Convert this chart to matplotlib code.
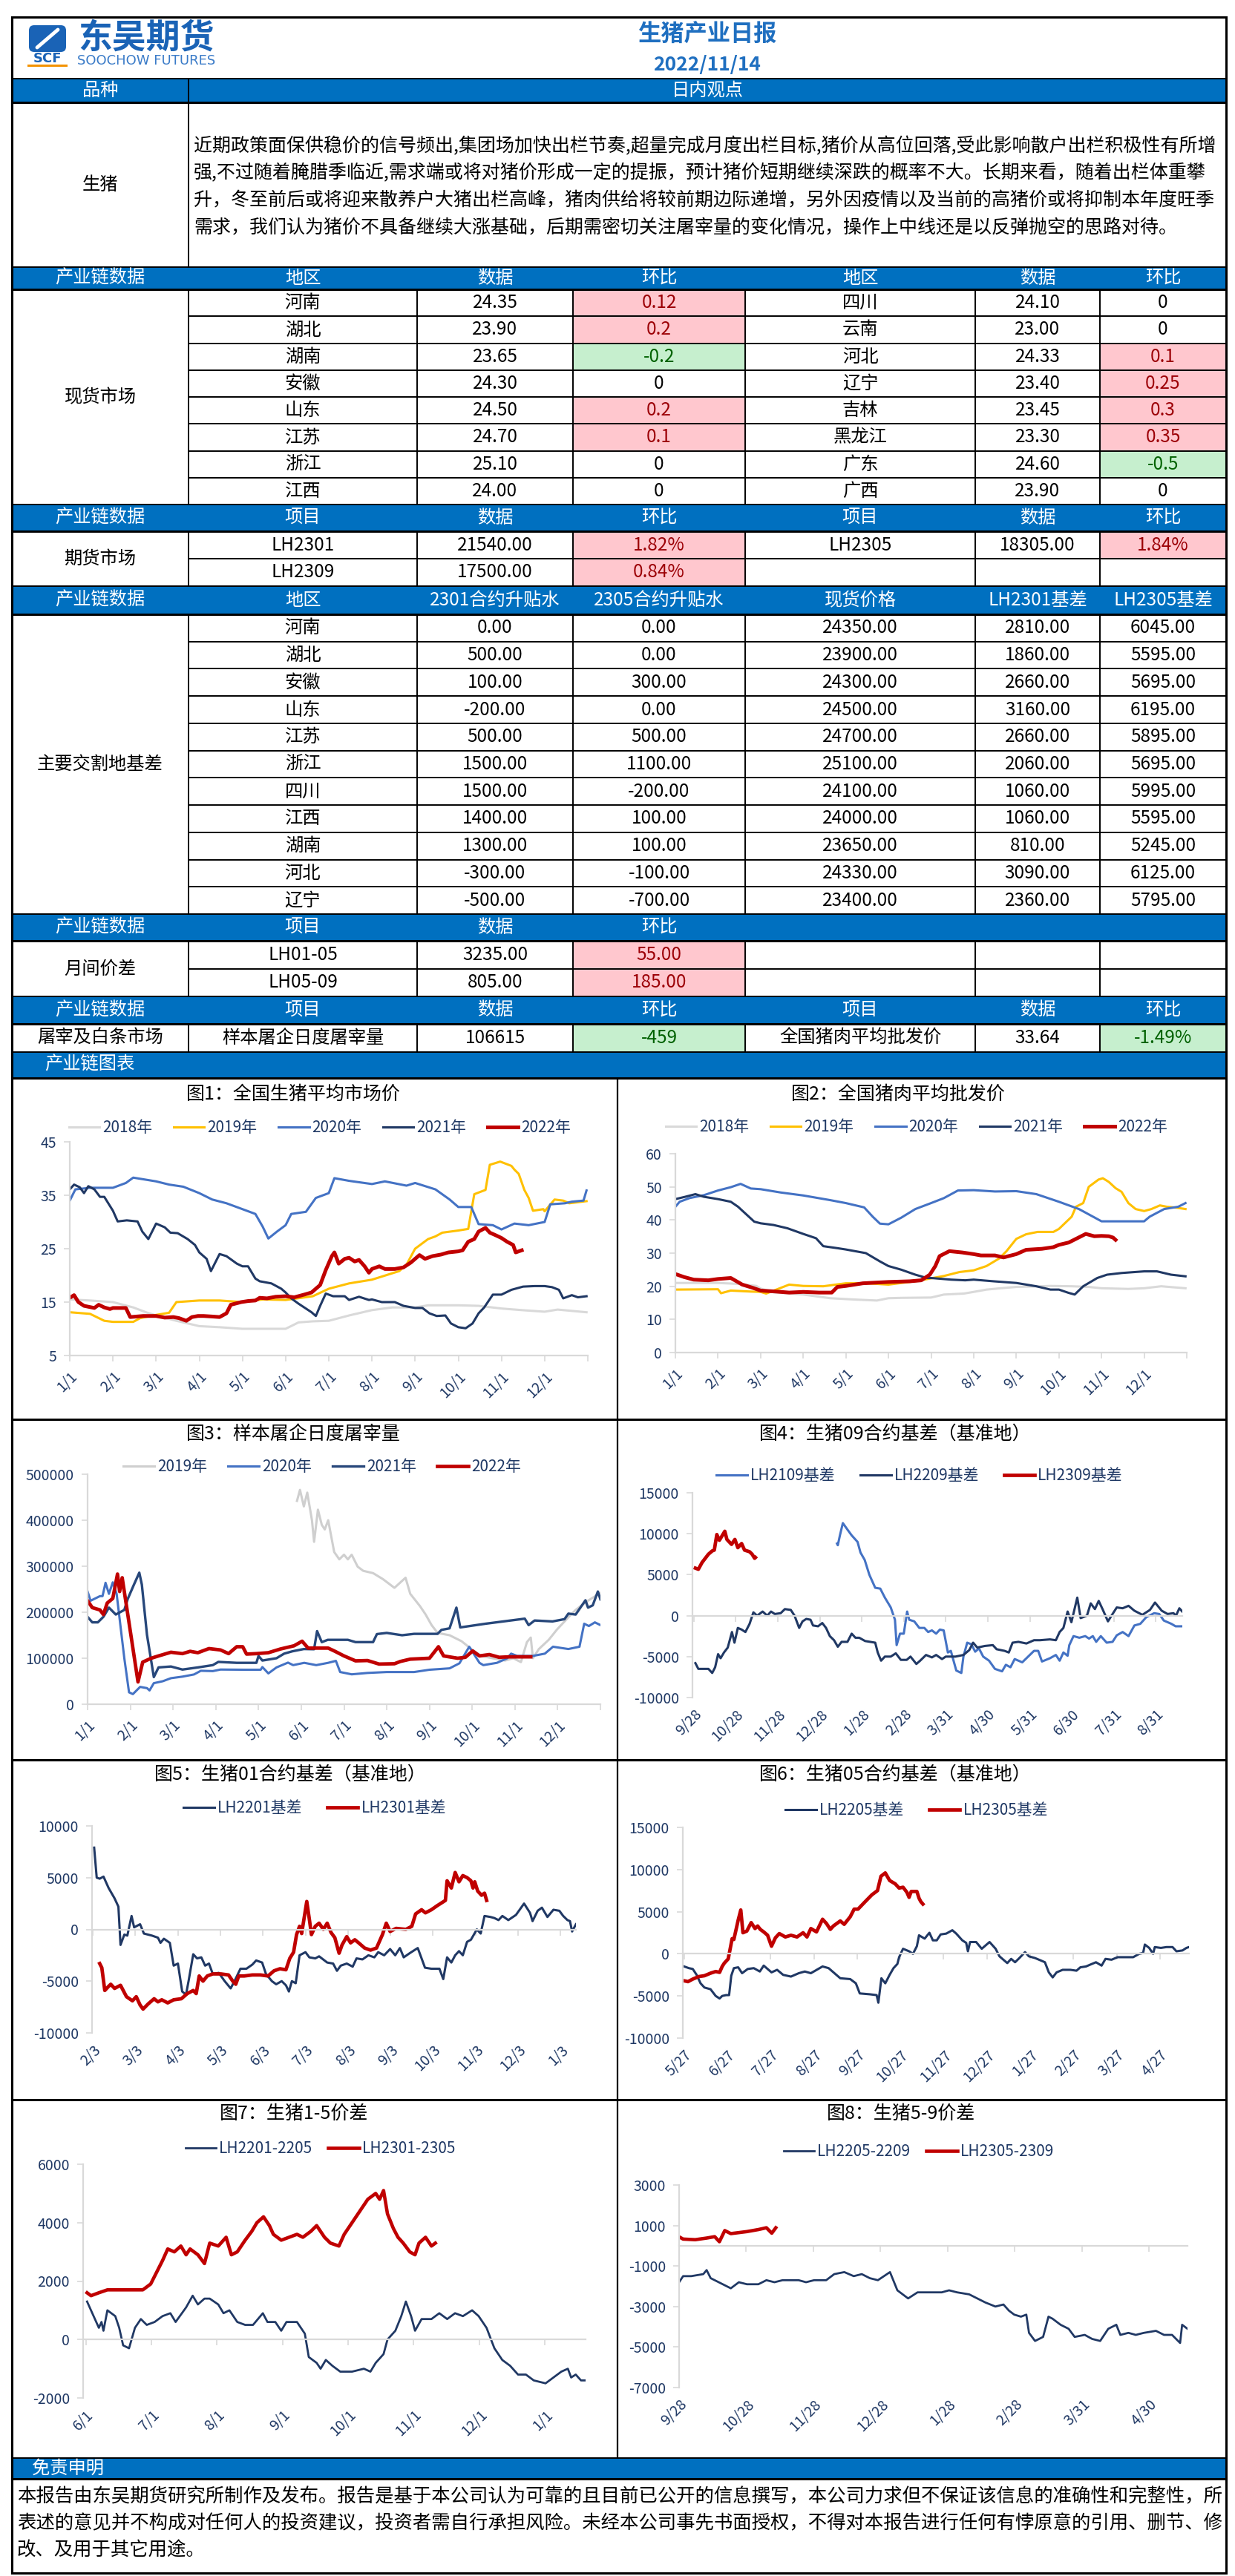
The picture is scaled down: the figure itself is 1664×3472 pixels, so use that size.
import matplotlib
matplotlib.use('Agg')
import matplotlib.pyplot as plt
from matplotlib.patches import Rectangle, FancyBboxPatch

plt.rcParams['font.family'] = ['Noto Sans CJK SC', 'DejaVu Sans']
plt.rcParams['axes.unicode_minus'] = False
plt.rcParams['lines.solid_joinstyle'] = 'round'

W, H = 1664, 3472

# ---------------- report text ----------------
report_title = '生猪产业日报'
report_date = '2022/11/14'
view_lines = [
    '近期政策面保供稳价的信号频出,集团场加快出栏节奏,超量完成月度出栏目标,猪价从高位回落,受此影响散户出栏积极性有所增',
    '强,不过随着腌腊季临近,需求端或将对猪价形成一定的提振，预计猪价短期继续深跌的概率不大。长期来看，随着出栏体重攀',
    '升，冬至前后或将迎来散养户大猪出栏高峰，猪肉供给将较前期边际递增，另外因疫情以及当前的高猪价或将抑制本年度旺季',
    '需求，我们认为猪价不具备继续大涨基础，后期需密切关注屠宰量的变化情况，操作上中线还是以反弹抛空的思路对待。',
]
disclaimer_lines = [
    '本报告由东吴期货研究所制作及发布。报告是基于本公司认为可靠的且目前已公开的信息撰写，本公司力求但不保证该信息的准确性和完整性，所',
    '表述的意见并不构成对任何人的投资建议，投资者需自行承担风险。未经本公司事先书面授权，不得对本报告进行任何有悖原意的引用、删节、修',
    '改、及用于其它用途。',
]

# ---------------- table data ----------------
spot_regions_l = ['河南', '湖北', '湖南', '安徽', '山东', '江苏', '浙江', '江西']
spot_prices_l = [24.35, 23.90, 23.65, 24.30, 24.50, 24.70, 25.10, 24.00]
spot_chg_l = ['0.12', '0.2', '-0.2', '0', '0.2', '0.1', '0', '0']
spot_regions_r = ['四川', '云南', '河北', '辽宁', '吉林', '黑龙江', '广东', '广西']
spot_prices_r = [24.10, 23.00, 24.33, 23.40, 23.45, 23.30, 24.60, 23.90]
spot_chg_r = ['0', '0', '0.1', '0.25', '0.3', '0.35', '-0.5', '0']

fut_contracts = ['LH2301', 'LH2305', 'LH2309']
fut_prices = [21540.00, 18305.00, 17500.00]
fut_chg = ['1.82%', '1.84%', '0.84%']

basis_regions = ['河南', '湖北', '安徽', '山东', '江苏', '浙江', '四川', '江西', '湖南', '河北', '辽宁']
prem_2301 = [0, 500, 100, -200, 500, 1500, 1500, 1400, 1300, -300, -500]
prem_2305 = [0, 0, 300, 0, 500, 1100, -200, 100, 100, -100, -700]
basis_spot = [24350, 23900, 24300, 24500, 24700, 25100, 24100, 24000, 23650, 24330, 23400]
basis_2301 = [2810, 1860, 2660, 3160, 2660, 2060, 1060, 1060, 810, 3090, 2360]
basis_2305 = [6045, 5595, 5695, 6195, 5895, 5695, 5995, 5595, 5245, 6125, 5795]

spread_names = ['LH01-05', 'LH05-09']
spread_values = [3235.00, 805.00]
spread_chg = ['55.00', '185.00']

slaughter_items = ['样本屠企日度屠宰量', '全国猪肉平均批发价']
slaughter_values = ['106615', '33.64']
slaughter_chg = ['-459', '-1.49%']

# ---------------- chart data: (date position, value) ----------------
# charts 1-3: x = month + fraction of month (1.0 = 1/1)
hog_2018 = [(1.0, 15.5), (1.47, 15.3), (2.0, 15.0), (2.47, 14.0), (2.8, 13.0), (3.0, 12.5), (3.47, 11.5),
            (4.0, 10.5), (4.47, 10.3), (5.0, 10.0), (5.47, 10.0), (6.0, 10.0), (6.3, 11.2), (6.63, 11.4),
            (7.0, 11.5), (7.47, 12.5), (8.0, 13.5), (8.47, 14.0), (9.0, 14.0), (9.3, 14.4), (10.0, 14.4),
            (10.47, 14.3), (11.0, 13.8), (11.47, 13.5), (12.0, 13.2), (12.3, 13.6), (12.97, 13.1)]
hog_2019 = [(1.0, 13.1), (1.47, 12.8), (1.8, 11.5), (2.0, 11.3), (2.47, 11.3), (2.63, 12.0), (3.0, 12.6),
            (3.3, 13.0), (3.47, 15.0), (4.0, 15.3), (4.47, 15.3), (5.0, 15.0), (5.47, 15.5), (6.0, 15.4),
            (6.63, 16.1), (7.0, 17.5), (7.47, 18.5), (8.0, 19.2), (8.63, 20.8), (8.8, 22.0), (9.0, 25.0),
            (9.3, 26.8), (9.47, 27.3), (9.63, 28.0), (10.0, 28.4), (10.23, 28.7), (10.37, 35.2), (10.63, 36.0),
            (10.73, 40.7), (10.97, 41.3), (11.23, 40.5), (11.3, 39.8), (11.4, 39.0), (11.53, 36.0),
            (11.63, 34.5), (11.73, 32.1), (11.97, 32.4), (12.0, 32.0), (12.23, 34.2), (12.43, 34.0),
            (12.57, 33.5), (12.97, 33.9)]
hog_2020 = [(1.0, 34.0), (1.13, 36.1), (1.47, 36.4), (2.0, 36.4), (2.3, 37.3), (2.47, 38.3), (3.0, 37.6),
            (3.3, 37.0), (3.63, 36.6), (4.0, 35.4), (4.3, 34.2), (4.63, 33.5), (5.0, 32.4), (5.3, 31.5),
            (5.47, 29.1), (5.6, 26.9), (5.8, 28.2), (6.0, 29.4), (6.13, 31.5), (6.47, 31.9), (6.7, 34.5),
            (7.0, 35.4), (7.13, 38.2), (7.47, 37.7), (8.0, 37.1), (8.3, 37.6), (8.8, 36.8), (9.0, 37.3),
            (9.47, 36.1), (9.8, 34.2), (10.0, 32.8), (10.3, 32.8), (10.47, 29.6), (10.8, 29.4), (11.0, 28.6),
            (11.3, 29.7), (11.63, 29.4), (12.0, 30.0), (12.13, 33.3), (12.47, 33.5), (12.63, 33.8),
            (12.9, 34.0), (12.97, 35.9)]
hog_2021 = [(1.0, 36.1), (1.1, 37.0), (1.23, 36.5), (1.33, 35.4), (1.43, 36.7), (1.57, 36.1), (1.7, 34.7),
            (1.8, 34.7), (2.0, 32.1), (2.11, 30.1), (2.32, 30.3), (2.57, 30.1), (2.68, 28.2), (2.82, 26.8),
            (3.0, 29.7), (3.2, 29.0), (3.33, 28.0), (3.5, 27.9), (3.73, 26.8), (3.9, 25.7), (4.0, 24.3),
            (4.17, 23.1), (4.27, 20.8), (4.47, 24.0), (4.63, 23.6), (4.87, 22.2), (5.0, 21.7), (5.13, 21.7),
            (5.3, 19.4), (5.4, 18.9), (5.67, 18.5), (5.9, 17.5), (6.0, 16.8), (6.13, 15.7), (6.3, 14.7),
            (6.6, 13.1), (6.7, 12.4), (6.8, 14.3), (6.93, 16.6), (7.1, 16.1), (7.37, 16.1), (7.47, 15.4),
            (7.7, 16.0), (7.93, 15.4), (8.0, 15.5), (8.23, 15.0), (8.53, 15.0), (8.73, 14.3), (9.0, 13.9),
            (9.17, 13.9), (9.33, 12.9), (9.5, 12.4), (9.7, 12.5), (9.83, 11.0), (10.0, 10.3), (10.17, 10.1),
            (10.33, 11.0), (10.47, 12.9), (10.6, 14.0), (10.8, 16.4), (11.0, 16.4), (11.23, 17.3),
            (11.5, 17.9), (11.77, 18.0), (12.0, 18.0), (12.17, 17.8), (12.33, 17.3), (12.43, 15.7),
            (12.63, 16.3), (12.77, 15.9), (12.97, 16.1)]
hog_2022 = [(1.0, 15.8), (1.1, 16.3), (1.2, 15.0), (1.33, 14.3), (1.57, 13.9), (1.67, 14.5), (1.8, 14.0),
            (1.93, 13.7), (2.0, 13.9), (2.3, 13.9), (2.4, 12.2), (2.7, 12.4), (3.0, 12.4), (3.2, 12.1),
            (3.4, 12.2), (3.53, 12.0), (3.7, 11.5), (3.83, 12.2), (3.97, 12.4), (4.1, 12.4), (4.3, 12.3),
            (4.47, 12.2), (4.63, 12.9), (4.73, 14.5), (4.97, 15.0), (5.13, 15.2), (5.3, 15.3), (5.4, 15.8),
            (5.57, 15.7), (5.77, 16.0), (6.0, 16.1), (6.2, 15.9), (6.43, 16.4), (6.6, 16.8), (6.8, 18.2),
            (6.93, 21.0), (7.07, 23.6), (7.13, 24.3), (7.23, 22.2), (7.37, 23.1), (7.47, 23.3), (7.6, 22.6),
            (7.7, 22.9), (7.83, 21.7), (7.93, 20.5), (8.0, 21.2), (8.17, 21.7), (8.3, 21.2), (8.53, 21.2),
            (8.73, 21.5), (8.9, 22.4), (9.0, 23.1), (9.1, 23.8), (9.23, 23.1), (9.4, 23.6), (9.6, 23.9),
            (9.77, 24.3), (10.0, 24.5), (10.1, 24.7), (10.23, 26.3), (10.37, 26.8), (10.47, 28.2),
            (10.63, 28.9), (10.73, 28.0), (10.87, 27.5), (11.0, 27.0), (11.13, 26.3), (11.27, 25.7),
            (11.33, 24.3), (11.4, 24.5), (11.47, 24.7)]

pork_2018 = [(1.0, 21.0), (1.5, 21.0), (2.0, 21.0), (2.5, 20.7), (2.9, 20.1), (3.0, 19.3), (3.3, 18.2),
             (4.0, 17.5), (4.63, 16.4), (5.2, 16.0), (5.73, 15.7), (6.0, 16.4), (6.3, 16.5), (7.0, 16.6),
             (7.3, 17.5), (7.77, 17.8), (8.0, 18.3), (8.3, 19.0), (8.63, 19.4), (9.0, 19.8), (9.8, 20.1),
             (10.3, 20.0), (10.7, 19.8), (11.0, 19.4), (11.63, 19.2), (12.0, 19.4), (12.4, 20.0), (12.97, 19.4)]
pork_2019 = [(1.0, 19.0), (2.0, 19.1), (2.07, 17.9), (2.3, 18.7), (2.77, 18.4), (3.0, 18.3), (3.13, 17.8),
             (3.37, 19.0), (3.67, 20.5), (4.0, 20.1), (4.47, 20.0), (5.0, 20.9), (5.5, 20.9), (6.0, 20.5),
             (6.67, 21.6), (7.0, 22.4), (7.3, 23.1), (7.67, 24.3), (8.0, 24.8), (8.3, 26.1), (8.6, 28.4),
             (8.77, 30.6), (9.0, 34.3), (9.23, 35.7), (9.5, 36.4), (9.87, 36.4), (10.0, 37.3), (10.3, 41.0),
             (10.4, 44.0), (10.57, 45.1), (10.7, 50.0), (10.93, 52.2), (11.03, 52.6), (11.17, 51.5),
             (11.33, 49.6), (11.47, 48.5), (11.63, 45.1), (11.8, 43.3), (12.0, 42.7), (12.17, 43.3),
             (12.37, 44.4), (12.53, 44.0), (12.77, 43.7), (12.97, 43.3)]
pork_2020 = [(1.0, 44.0), (1.1, 45.5), (1.33, 46.6), (1.67, 47.5), (2.0, 48.9), (2.3, 49.9), (2.53, 50.9),
             (2.77, 49.5), (3.0, 49.3), (3.47, 48.3), (4.0, 47.4), (4.63, 46.0), (5.0, 45.1), (5.43, 43.8),
             (5.63, 41.0), (5.8, 38.9), (6.0, 38.7), (6.3, 40.7), (6.63, 43.3), (7.0, 45.1), (7.3, 46.6),
             (7.63, 48.9), (8.0, 49.0), (8.5, 48.6), (9.0, 48.7), (9.47, 47.8), (10.0, 45.5), (10.47, 43.3),
             (10.8, 41.0), (11.0, 39.6), (11.5, 39.6), (12.0, 39.6), (12.13, 41.0), (12.47, 43.3),
             (12.8, 44.0), (12.97, 45.1)]
pork_2021 = [(1.0, 46.3), (1.23, 47.0), (1.47, 47.8), (1.67, 47.0), (2.0, 46.3), (2.3, 45.5), (2.47, 44.0),
             (2.85, 39.5), (3.0, 39.0), (3.3, 38.5), (3.63, 37.5), (4.0, 35.8), (4.3, 34.5), (4.47, 32.1),
             (4.8, 31.5), (5.0, 31.1), (5.47, 30.0), (5.8, 27.5), (6.0, 26.1), (6.3, 25.0), (6.63, 23.5),
             (6.9, 22.5), (7.0, 22.5), (7.47, 22.0), (7.8, 21.8), (8.0, 22.0), (8.47, 21.5), (9.0, 21.0),
             (9.47, 20.0), (9.8, 19.0), (10.0, 19.0), (10.23, 18.0), (10.37, 17.5), (10.57, 20.0),
             (10.9, 22.5), (11.13, 23.5), (11.47, 24.0), (12.0, 24.5), (12.3, 24.5), (12.63, 23.5),
             (12.97, 23.0)]
pork_2022 = [(1.0, 23.7), (1.2, 22.8), (1.43, 22.0), (1.77, 21.8), (2.0, 22.2), (2.3, 22.5), (2.57, 20.5),
             (2.8, 19.6), (3.0, 18.7), (3.37, 18.4), (3.67, 18.1), (4.0, 18.3), (4.37, 18.1), (4.67, 18.1),
             (4.8, 19.8), (5.0, 20.1), (5.4, 20.9), (6.0, 21.3), (6.5, 21.5), (6.77, 21.8), (6.97, 23.5),
             (7.1, 26.1), (7.2, 29.1), (7.43, 30.6), (7.73, 30.2), (8.0, 29.7), (8.17, 29.3), (8.5, 29.3),
             (8.7, 28.7), (9.0, 29.7), (9.23, 31.0), (9.6, 31.3), (9.87, 31.8), (10.0, 32.5), (10.23, 33.2),
             (10.4, 34.3), (10.63, 35.8), (10.83, 35.1), (11.0, 35.2), (11.17, 35.1), (11.27, 34.7),
             (11.33, 34.0)]

slaughter_2019 = [(5.9, 442000), (5.97, 466000), (6.06, 430000), (6.14, 460000), (6.25, 400000),
                  (6.3, 353000), (6.39, 423000), (6.48, 390000), (6.55, 380000), (6.63, 400000),
                  (6.77, 331000), (6.89, 315000), (7.0, 325000), (7.09, 315000), (7.18, 325000),
                  (7.32, 299000), (7.45, 290000), (7.68, 285000), (7.91, 272000), (8.18, 253000),
                  (8.44, 275000), (8.55, 240000), (8.78, 213000), (8.91, 195000), (9.05, 172000),
                  (9.19, 155000), (9.47, 150000), (9.75, 137000), (9.98, 120000), (10.21, 105000),
                  (10.49, 99700), (10.77, 95000), (10.96, 100000), (11.14, 91600), (11.28, 135000),
                  (11.37, 145000), (11.42, 100000), (11.56, 120000), (11.79, 140000), (11.98, 162000),
                  (12.25, 189000), (12.42, 205000), (12.69, 224000), (13.0, 242000)]
slaughter_2020 = [(1.0, 245000), (1.07, 225000), (1.29, 235000), (1.35, 235000), (1.42, 264000),
                  (1.5, 240000), (1.59, 265000), (1.68, 240000), (1.86, 99700), (1.97, 25900),
                  (2.06, 22000), (2.23, 37700), (2.39, 35000), (2.45, 30000), (2.55, 45800), (2.76, 50000),
                  (2.95, 56600), (3.22, 60000), (3.49, 64700), (3.65, 72700), (3.93, 72000), (4.11, 75400),
                  (4.67, 75000), (5.05, 75000), (5.09, 80800), (5.23, 67000), (5.42, 80000), (5.69, 90500),
                  (5.81, 85000), (6.07, 90000), (6.35, 85000), (6.63, 90000), (6.81, 94300), (6.91, 70000),
                  (7.18, 65000), (7.55, 68000), (8.0, 70000), (8.64, 70000), (9.0, 75000), (9.47, 78000),
                  (9.7, 88900), (9.93, 125000), (10.17, 90000), (10.26, 85000), (10.58, 90000),
                  (10.82, 100000), (10.91, 110000), (11.05, 105000), (11.42, 105000), (11.7, 110000),
                  (11.89, 125000), (12.25, 120000), (12.51, 125000), (12.62, 175000), (12.73, 170000),
                  (12.87, 178000), (13.0, 172000)]
slaughter_2021 = [(1.0, 190000), (1.11, 178000), (1.24, 178000), (1.37, 190000), (1.5, 210000),
                  (1.66, 195000), (1.86, 205000), (1.94, 229000), (2.08, 259000), (2.21, 286000),
                  (2.27, 260000), (2.39, 151000), (2.55, 59000), (2.66, 80000), (2.95, 82000), (3.22, 75400),
                  (3.58, 80000), (3.93, 85000), (4.06, 92000), (4.49, 90000), (4.95, 90000), (5.0, 105000),
                  (5.09, 95000), (5.42, 100000), (5.6, 110000), (5.79, 115000), (6.06, 120000),
                  (6.3, 119600), (6.37, 159000), (6.48, 135000), (6.62, 140000), (7.09, 140000),
                  (7.27, 135000), (7.68, 135000), (7.77, 152500), (8.0, 155000), (8.36, 150000),
                  (8.64, 153000), (9.19, 153000), (9.28, 161600), (9.47, 165000), (9.63, 210000),
                  (9.72, 167000), (10.31, 175000), (11.23, 186000), (11.32, 172000), (11.46, 182000),
                  (11.88, 180000), (12.16, 185000), (12.25, 197000), (12.42, 195000), (12.65, 226000),
                  (12.71, 210000), (12.82, 215000), (12.94, 245000), (13.0, 228000)]
slaughter_2022 = [(1.0, 225000), (1.11, 210000), (1.29, 205000), (1.37, 195000), (1.46, 220000),
                  (1.59, 230000), (1.7, 283000), (1.75, 245000), (1.81, 275000), (1.9, 220000),
                  (2.18, 48500), (2.29, 91600), (2.49, 100000), (2.66, 105000), (2.95, 113000),
                  (3.22, 110000), (3.4, 115000), (3.58, 112000), (3.84, 121000), (4.11, 118000),
                  (4.3, 110000), (4.49, 125000), (4.63, 125000), (4.72, 109000), (4.95, 110000),
                  (5.23, 112000), (5.51, 120000), (5.83, 127000), (6.02, 137000), (6.16, 122000),
                  (6.63, 122000), (6.79, 115000), (7.0, 105000), (7.27, 94300), (7.55, 95000),
                  (7.82, 87300), (8.18, 88000), (8.32, 93000), (8.55, 98000), (9.0, 100000),
                  (9.21, 125000), (9.33, 105000), (9.66, 100000), (9.84, 102000), (10.01, 115800),
                  (10.17, 105000), (10.4, 108000), (10.63, 102000), (10.86, 103000), (11.37, 103000)]

# charts 4-8: x = months after the first axis label
basis09_dates = ['9/28', '10/28', '11/28', '12/28', '1/28', '2/28', '3/31', '4/30', '5/31', '6/30', '7/31', '8/31']
lh2109 = [(3.41, 8800), (3.43, 8600), (3.48, 9800), (3.55, 11300), (3.66, 10500), (3.76, 9800), (3.9, 9000),
          (3.97, 7700), (4.07, 6800), (4.18, 5000), (4.32, 3400), (4.44, 3300), (4.55, 2200), (4.69, 1000),
          (4.79, -500), (4.83, -3600), (4.91, -2200), (5.0, -2200), (5.08, 500), (5.13, -500), (5.25, -700),
          (5.37, -1500), (5.49, -1500), (5.58, -2000), (5.67, -1800), (5.77, -2200), (5.86, -1700),
          (5.95, -1800), (6.05, -4500), (6.12, -4300), (6.25, -6700), (6.37, -7000), (6.42, -5000),
          (6.51, -3300), (6.61, -3500), (6.7, -4400), (6.79, -4000), (6.89, -5000), (7.03, -5500),
          (7.17, -6500), (7.34, -6800), (7.43, -6000), (7.54, -6300), (7.64, -5300), (7.82, -5700),
          (7.96, -5000), (8.1, -4300), (8.2, -4300), (8.29, -5600), (8.48, -5200), (8.62, -4800),
          (8.71, -5500), (8.8, -4500), (8.9, -4900), (8.94, -3600), (9.04, -2500), (9.18, -2700),
          (9.32, -2500), (9.41, -2800), (9.5, -2500), (9.58, -3200), (9.69, -2500), (9.83, -3300),
          (9.97, -3200), (10.07, -2400), (10.21, -2000), (10.35, -2500), (10.49, -1200), (10.63, -1000),
          (10.77, -200), (10.96, 300), (11.08, 200), (11.19, -600), (11.37, -1000), (11.47, -1300),
          (11.61, -1300)]
lh2209 = [(0.04, -5800), (0.11, -6500), (0.35, -6500), (0.44, -7000), (0.51, -6300), (0.58, -4700),
          (0.64, -5200), (0.72, -4500), (0.81, -3900), (0.91, -2000), (0.97, -3300), (1.05, -1500),
          (1.14, -1700), (1.23, -2000), (1.33, -1000), (1.42, 400), (1.51, 0), (1.64, 500), (1.75, 0),
          (1.84, 500), (1.93, 200), (2.07, 300), (2.17, 800), (2.31, 700), (2.4, 0), (2.51, -1500),
          (2.59, -700), (2.68, -400), (2.78, -500), (2.84, -1200), (2.96, -1300), (3.06, -900), (3.15, -1500),
          (3.24, -2500), (3.34, -3000), (3.43, -3800), (3.52, -3200), (3.66, -3200), (3.76, -2200),
          (3.85, -2700), (3.94, -2700), (4.08, -3100), (4.32, -3300), (4.38, -4500), (4.46, -5500),
          (4.55, -5000), (4.69, -5000), (4.81, -4600), (4.93, -5400), (5.07, -5400), (5.16, -5000),
          (5.3, -5900), (5.39, -5500), (5.53, -4800), (5.67, -5100), (5.77, -4800), (5.91, -5300),
          (6.0, -5000), (6.23, -5000), (6.42, -4800), (6.56, -4200), (6.65, -3300), (6.75, -3900),
          (6.93, -3700), (7.12, -3600), (7.21, -4100), (7.4, -4300), (7.5, -4500), (7.59, -3300),
          (7.73, -3200), (7.92, -3400), (8.1, -3000), (8.24, -3000), (8.48, -2900), (8.62, -3000),
          (8.71, -2000), (8.8, -1500), (8.9, 500), (8.99, -800), (9.13, 2200), (9.21, -300), (9.36, 0),
          (9.45, 1500), (9.55, 800), (9.64, 1800), (9.74, 700), (9.86, -700), (9.97, 200), (10.07, 1000),
          (10.21, 900), (10.35, 1200), (10.49, 600), (10.68, 100), (10.86, 700), (10.98, 1600),
          (11.14, 600), (11.28, 200), (11.42, 300), (11.48, 0), (11.56, 900), (11.63, 500)]
lh2309 = [(0.04, 5800), (0.11, 5660), (0.2, 6500), (0.35, 7500), (0.44, 7900), (0.49, 8000), (0.55, 9900),
          (0.61, 9200), (0.67, 9700), (0.74, 10300), (0.79, 9300), (0.9, 8700), (0.98, 9300), (1.05, 8300),
          (1.14, 8800), (1.21, 8000), (1.33, 7800), (1.39, 7500), (1.45, 7000), (1.47, 7100)]

basis01_dates = ['2/3', '3/3', '4/3', '5/3', '6/3', '7/3', '8/3', '9/3', '10/3', '11/3', '12/3', '1/3']
lh2201 = [(0.03, 7900), (0.09, 5000), (0.16, 4900), (0.25, 5100), (0.37, 4000), (0.51, 3000), (0.6, 2200),
          (0.65, -1500), (0.74, -500), (0.81, -600), (0.91, 1300), (0.97, 200), (1.11, 500), (1.2, -400),
          (1.39, -600), (1.53, -800), (1.59, -1300), (1.67, -900), (1.81, -1300), (1.9, -3500), (2.0, -3300),
          (2.1, -6000), (2.19, -6300), (2.25, -5000), (2.36, -2400), (2.45, -2800), (2.55, -2700),
          (2.64, -3500), (2.73, -3300), (2.82, -4300), (2.96, -4200), (3.1, -5000), (3.24, -5700),
          (3.33, -5000), (3.47, -3800), (3.61, -3800), (3.75, -3400), (3.84, -3000), (3.98, -3200),
          (4.07, -4300), (4.21, -5000), (4.31, -5300), (4.44, -5000), (4.54, -5400), (4.61, -6000),
          (4.68, -5000), (4.77, -5200), (4.86, -2500), (5.0, -2200), (5.09, -2700), (5.23, -2800),
          (5.32, -2600), (5.51, -3200), (5.65, -3300), (5.74, -4000), (5.83, -3500), (5.97, -3300),
          (6.11, -3600), (6.2, -2800), (6.34, -2900), (6.48, -2500), (6.62, -2700), (6.71, -2200),
          (6.85, -2500), (6.99, -1900), (7.11, -2500), (7.22, -1800), (7.31, -2700), (7.45, -2300),
          (7.64, -1800), (7.73, -2800), (7.81, -3700), (7.96, -3800), (8.15, -3800), (8.24, -4800),
          (8.33, -2700), (8.43, -3200), (8.52, -2500), (8.61, -2100), (8.7, -2500), (8.8, -1200),
          (8.89, -1000), (9.03, 0), (9.12, -400), (9.21, 1300), (9.35, 1200), (9.44, 1100), (9.54, 900),
          (9.63, 1300), (9.77, 900), (9.95, 1400), (10.14, 2500), (10.28, 1600), (10.34, 800),
          (10.46, 1800), (10.56, 2100), (10.69, 1200), (10.83, 1900), (10.97, 1800), (11.06, 1300),
          (11.16, 900), (11.22, 800), (11.27, -200), (11.36, 500)]
lh2301 = [(0.16, -3300), (0.21, -3700), (0.28, -5900), (0.37, -5500), (0.42, -5300), (0.51, -5700),
          (0.65, -5400), (0.79, -6500), (0.93, -6900), (1.02, -6500), (1.11, -7300), (1.18, -7700),
          (1.3, -7200), (1.44, -6700), (1.53, -7000), (1.62, -6800), (1.76, -7100), (1.9, -6800),
          (2.08, -6700), (2.22, -6200), (2.36, -5900), (2.43, -6200), (2.5, -4500), (2.59, -5000),
          (2.69, -4500), (2.82, -4300), (3.01, -4300), (3.19, -4400), (3.29, -5000), (3.36, -5300),
          (3.43, -4500), (3.56, -4500), (3.75, -4400), (3.94, -4400), (4.12, -4500), (4.26, -4000),
          (4.4, -3800), (4.54, -3900), (4.63, -2800), (4.72, -2200), (4.79, -500), (4.86, 300), (4.91, -400),
          (5.03, 2700), (5.09, 1000), (5.14, -500), (5.23, 300), (5.32, 600), (5.42, 0), (5.51, 600),
          (5.6, -300), (5.69, -800), (5.79, -2300), (5.86, -1500), (5.97, -700), (6.06, -1300),
          (6.16, -1000), (6.25, -1300), (6.39, -1800), (6.53, -2000), (6.67, -1800), (6.81, -500),
          (6.9, 600), (6.99, -200), (7.13, 100), (7.36, 0), (7.5, 300), (7.59, 1500), (7.73, 1900),
          (7.82, 1600), (7.96, 1900), (8.1, 2300), (8.29, 2800), (8.33, 4700), (8.43, 4000), (8.52, 5500),
          (8.61, 4600), (8.7, 5200), (8.8, 5000), (8.89, 4700), (8.94, 4000), (8.98, 4600), (9.05, 3700),
          (9.14, 3300), (9.21, 3500), (9.26, 2800)]

basis05_dates = ['5/27', '6/27', '7/27', '8/27', '9/27', '10/27', '11/27', '12/27', '1/27', '2/27', '3/27', '4/27']
lh2205 = [(0, -1500), (0.11, -1700), (0.2, -1800), (0.29, -2500), (0.38, -3500), (0.47, -4000), (0.61, -4200),
          (0.73, -5000), (0.82, -5300), (0.88, -5000), (0.97, -4900), (1.04, -4900), (1.09, -2600),
          (1.15, -1700), (1.25, -1600), (1.34, -2300), (1.47, -1800), (1.61, -1700), (1.75, -2100),
          (1.84, -1400), (1.93, -1800), (2.02, -2200), (2.15, -1900), (2.29, -2500), (2.47, -2700),
          (2.65, -2300), (2.79, -2100), (2.93, -2300), (3.2, -1500), (3.34, -1700), (3.43, -2100),
          (3.61, -2900), (3.84, -3000), (3.97, -3500), (4.06, -4700), (4.29, -4800), (4.45, -4900),
          (4.49, -5800), (4.56, -2900), (4.65, -3500), (4.75, -2500), (4.84, -1700), (4.93, -1200),
          (4.97, -400), (5.06, 600), (5.2, 300), (5.29, 0), (5.38, 900), (5.43, 2200), (5.56, 1800),
          (5.67, 2500), (5.75, 1600), (5.84, 1600), (5.93, 2300), (6.06, 2400), (6.2, 2800), (6.29, 2400),
          (6.43, 1600), (6.52, 1300), (6.56, 300), (6.61, 1400), (6.75, 1400), (6.88, 600), (7.06, 1400),
          (7.2, 600), (7.29, -300), (7.47, -1100), (7.56, -600), (7.65, -1000), (7.75, -500), (7.88, 200),
          (7.97, -300), (8.11, -500), (8.25, -800), (8.34, -1000), (8.43, -2200), (8.52, -2800),
          (8.61, -2200), (8.75, -1900), (8.93, -1900), (9.07, -2000), (9.16, -1600), (9.29, -1500),
          (9.38, -1300), (9.52, -1000), (9.65, -1400), (9.74, -600), (9.88, -700), (10.02, -400),
          (10.2, -400), (10.38, -400), (10.52, 0), (10.61, 100), (10.65, 1100), (10.75, 700), (10.84, 0),
          (10.88, 800), (11.02, 700), (11.15, 800), (11.29, 800), (11.38, 300), (11.52, 400), (11.61, 700),
          (11.67, 800)]
lh2305 = [(0, -3200), (0.09, -3300), (0.2, -3000), (0.34, -2700), (0.47, -2600), (0.61, -2300), (0.73, -2100),
          (0.82, -2200), (0.88, -1500), (0.93, -1100), (1.02, -600), (1.11, 1800), (1.15, 1700), (1.25, 4000),
          (1.31, 5200), (1.36, 2500), (1.45, 2700), (1.55, 3700), (1.64, 3000), (1.7, 3300), (1.76, 2900),
          (1.84, 2600), (1.93, 2200), (2.02, 900), (2.11, 1900), (2.2, 2400), (2.34, 2000), (2.47, 2200),
          (2.61, 2000), (2.75, 2500), (2.84, 2000), (2.93, 3000), (3.06, 2600), (3.2, 4100), (3.29, 3600),
          (3.38, 2900), (3.45, 3300), (3.61, 3900), (3.7, 3500), (3.84, 4400), (3.93, 5300), (4.02, 5300),
          (4.15, 6000), (4.34, 7000), (4.47, 7500), (4.55, 9200), (4.65, 9600), (4.75, 8700), (4.88, 8300),
          (4.97, 7800), (5.06, 7900), (5.15, 7300), (5.2, 6700), (5.25, 7400), (5.38, 7400), (5.43, 6600),
          (5.47, 6200), (5.52, 5900)]

spread15_dates = ['6/1', '7/1', '8/1', '9/1', '10/1', '11/1', '12/1', '1/1']
lh2201_2205 = [(0.02, 1300), (0.12, 800), (0.2, 400), (0.24, 600), (0.27, 300), (0.33, 1000), (0.45, 800),
               (0.51, 400), (0.57, -200), (0.66, -300), (0.75, 400), (0.84, 700), (0.93, 500), (1.05, 600),
               (1.17, 800), (1.29, 900), (1.37, 600), (1.53, 1100), (1.63, 1500), (1.71, 1200), (1.81, 1400),
               (1.89, 1400), (2.02, 1200), (2.1, 900), (2.19, 1000), (2.31, 600), (2.43, 500), (2.55, 500),
               (2.7, 900), (2.77, 600), (2.89, 600), (2.98, 300), (3.06, 600), (3.22, 600), (3.34, 200),
               (3.4, -600), (3.52, -800), (3.58, -1000), (3.66, -700), (3.76, -900), (3.88, -1100),
               (4.06, -1100), (4.24, -1000), (4.34, -1100), (4.42, -800), (4.54, -500), (4.6, 0), (4.72, 300),
               (4.81, 800), (4.88, 1300), (4.96, 800), (5.02, 300), (5.12, 700), (5.27, 700), (5.39, 900),
               (5.51, 700), (5.63, 900), (5.75, 800), (5.89, 1000), (5.99, 800), (6.11, 400), (6.23, -300),
               (6.35, -700), (6.47, -900), (6.59, -1200), (6.71, -1200), (6.83, -1400), (7.01, -1500),
               (7.13, -1300), (7.25, -1100), (7.35, -1000), (7.4, -1300), (7.47, -1200), (7.55, -1400),
               (7.61, -1400)]
lh2301_2305 = [(0.02, 1600), (0.08, 1500), (0.2, 1600), (0.33, 1700), (0.45, 1700), (0.57, 1700), (0.75, 1700),
               (0.87, 1700), (0.99, 1900), (1.08, 2300), (1.17, 2700), (1.25, 3100), (1.35, 3000), (1.45, 3200),
               (1.53, 2900), (1.59, 3100), (1.71, 2900), (1.81, 2600), (1.89, 3300), (2.02, 3200), (2.14, 3500),
               (2.22, 2900), (2.31, 3000), (2.43, 3400), (2.53, 3700), (2.61, 4000), (2.71, 4200), (2.8, 3900),
               (2.86, 3600), (2.98, 3400), (3.1, 3500), (3.22, 3600), (3.31, 3500), (3.43, 3700), (3.52, 3900),
               (3.64, 3500), (3.73, 3300), (3.86, 3200), (3.94, 3600), (4.06, 4000), (4.18, 4400), (4.3, 4800),
               (4.42, 5000), (4.48, 4800), (4.54, 5100), (4.6, 4300), (4.69, 3800), (4.76, 3500), (4.84, 3300),
               (4.94, 3000), (5.02, 2900), (5.08, 3300), (5.18, 3500), (5.27, 3200), (5.33, 3300)]

spread59_dates = ['9/28', '10/28', '11/28', '12/28', '1/28', '2/28', '3/31', '4/30']
lh2205_2209 = [(0, -1800), (0.06, -1500), (0.18, -1500), (0.36, -1400), (0.41, -1200), (0.47, -1600),
               (0.59, -1800), (0.71, -2000), (0.77, -2100), (0.89, -1800), (1.01, -1900), (1.18, -1900),
               (1.3, -1700), (1.42, -1800), (1.54, -1700), (1.66, -1700), (1.78, -1700), (1.89, -1800),
               (2.01, -1700), (2.19, -1700), (2.31, -1400), (2.46, -1300), (2.6, -1500), (2.72, -1400),
               (2.84, -1600), (2.96, -1700), (3.05, -1500), (3.14, -1300), (3.25, -2200), (3.41, -2600),
               (3.55, -2300), (3.73, -2300), (3.91, -2300), (4.02, -2200), (4.14, -2300), (4.32, -2400),
               (4.44, -2600), (4.56, -2800), (4.71, -3000), (4.83, -2900), (4.91, -3200), (4.99, -3400),
               (5.09, -3500), (5.17, -3400), (5.21, -4300), (5.3, -4700), (5.42, -4500), (5.5, -3500),
               (5.56, -3600), (5.68, -3900), (5.8, -4100), (5.89, -4500), (6.04, -4400), (6.15, -4600),
               (6.27, -4700), (6.39, -4100), (6.51, -3900), (6.57, -4400), (6.69, -4300), (6.8, -4400),
               (6.92, -4300), (7.1, -4200), (7.22, -4400), (7.34, -4400), (7.46, -4800), (7.49, -3900),
               (7.57, -4100)]
lh2305_2309 = [(0, 440), (0.06, 330), (0.24, 300), (0.41, 380), (0.53, 450), (0.6, 200), (0.68, 750),
               (0.77, 600), (0.89, 650), (1.01, 700), (1.18, 800), (1.3, 890), (1.38, 620), (1.44, 890)]

month_labels = ['1/1', '2/1', '3/1', '4/1', '5/1', '6/1', '7/1', '8/1', '9/1', '10/1', '11/1', '12/1', '']

# ---------------- styling ----------------
BLUE = '#0070C0'
TITLE_BLUE = '#1F6FC0'
LOGO_BLUE = '#1A63B6'
PINK, PINK_TXT = '#FFC7CE', '#9C0006'
GREEN, GREEN_TXT = '#C6EFCE', '#006100'
AXIS_GRAY = '#D9D9D9'
TICK_BLUE = '#1F3864'
GRAY, YELLOW, MID_BLUE, NAVY, RED = '#D9D9D9', '#FFC000', '#4472C4', '#203864', '#C00000'
FS = 17.5

COLS = [16, 254, 562, 772, 1004, 1314, 1482, 1652]
L, R, T, B = 16, 1652, 23, 3468

fig = plt.figure(figsize=(W / 100, H / 100), dpi=100)
bg = fig.add_axes([0, 0, 1, 1])
bg.set_xlim(0, W)
bg.set_ylim(H, 0)
bg.axis('off')


def hline(y, x0=L, x1=R, lw=1.4, color='black'):
    bg.plot([x0, x1], [y, y], color=color, lw=lw, solid_capstyle='butt')


def vline(x, y0, y1, lw=1.4, color='black'):
    bg.plot([x, x], [y0, y1], color=color, lw=lw, solid_capstyle='butt')


def put(x, y, s, **kw):
    kw.setdefault('fontsize', FS)
    kw.setdefault('ha', 'center')
    kw.setdefault('va', 'center')
    bg.text(x, y, s, **kw)


def blue_bar(y0, y1, labels=None):
    bg.add_patch(Rectangle((L, y0), R - L, y1 - y0, fc=BLUE, ec='none'))
    if labels:
        for i, lab in enumerate(labels):
            if lab:
                put((COLS[i] + COLS[i + 1]) / 2, (y0 + y1) / 2, lab, color='white')
    hline(y0, lw=1.4)
    hline(y1, lw=2.2)


def cell(c, y0, y1, txt, signed=False):
    x0, x1 = COLS[c], COLS[c + 1]
    color = 'black'
    if signed and txt:
        v = float(txt.rstrip('%'))
        if v != 0:
            fc, color = (PINK, PINK_TXT) if v > 0 else (GREEN, GREEN_TXT)
            bg.add_patch(Rectangle((x0, y0), x1 - x0, y1 - y0, fc=fc, ec='none'))
    if txt:
        put((x0 + x1) / 2, (y0 + y1) / 2, txt, color=color)


def section(y0, y1, label, rows):
    h = (y1 - y0) / len(rows)
    for r, row in enumerate(rows):
        ry = y0 + r * h
        for c, (txt, signed) in enumerate(row, start=1):
            cell(c, ry, ry + h, txt, signed)
        if r:
            hline(ry, COLS[1], R)
    for x in COLS[1:-1]:
        vline(x, y0, y1)
    put((COLS[0] + COLS[1]) / 2, (y0 + y1) / 2, label)


# ---------------- header ----------------
bg.add_patch(FancyBboxPatch((39, 34), 50, 36, boxstyle='round,pad=0,rounding_size=7', fc=LOGO_BLUE, ec='none'))
bg.plot([50, 78], [64, 40], color='white', lw=3.5, solid_capstyle='round')
put(197, 52, '东吴期货', fontsize=33, fontweight='bold', color=LOGO_BLUE)
put(64, 79, 'SCF', fontsize=13, fontweight='bold', color=LOGO_BLUE, family='DejaVu Sans')
bg.add_patch(Rectangle((37, 87), 54, 3, fc='#F39200', ec='none'))
put(197, 82, 'SOOCHOW FUTURES', fontsize=13, color='#3A7BC8', family='DejaVu Sans')
put(953, 47, report_title, fontsize=22.5, fontweight='bold', color=TITLE_BLUE)
put(953, 87, report_date, fontsize=19, fontweight='bold', color=TITLE_BLUE)

blue_bar(106, 138)
put(135, 122, '品种', color='white')
put(953, 122, '日内观点', color='white')
vline(254, 106, 360)
put(135, 249, '生猪')
for i, line in enumerate(view_lines):
    put(261, 197 + i * 36.7, line, ha='left', fontsize=18)

# ---------------- tables ----------------
blue_bar(360, 390, ['产业链数据', '地区', '数据', '环比', '地区', '数据', '环比'])
spot_rows = [[(spot_regions_l[i], False), (f'{spot_prices_l[i]:.2f}', False), (spot_chg_l[i], True),
              (spot_regions_r[i], False), (f'{spot_prices_r[i]:.2f}', False), (spot_chg_r[i], True)]
             for i in range(len(spot_regions_l))]
section(390, 680, '现货市场', spot_rows)

blue_bar(680, 716, ['产业链数据', '项目', '数据', '环比', '项目', '数据', '环比'])
fut_rows = [[(fut_contracts[0], False), (f'{fut_prices[0]:.2f}', False), (fut_chg[0], True),
             (fut_contracts[1], False), (f'{fut_prices[1]:.2f}', False), (fut_chg[1], True)],
            [(fut_contracts[2], False), (f'{fut_prices[2]:.2f}', False), (fut_chg[2], True),
             ('', False), ('', False), ('', False)]]
section(716, 790, '期货市场', fut_rows)

blue_bar(790, 828, ['产业链数据', '地区', '2301合约升贴水', '2305合约升贴水', '现货价格', 'LH2301基差', 'LH2305基差'])
basis_rows = [[(basis_regions[i], False), (f'{prem_2301[i]:.2f}', False), (f'{prem_2305[i]:.2f}', False),
               (f'{basis_spot[i]:.2f}', False), (f'{basis_2301[i]:.2f}', False), (f'{basis_2305[i]:.2f}', False)]
              for i in range(len(basis_regions))]
section(828, 1232, '主要交割地基差', basis_rows)

blue_bar(1232, 1268, ['产业链数据', '项目', '数据', '环比'])
spread_rows = [[(spread_names[i], False), (f'{spread_values[i]:.2f}', False), (spread_chg[i], True),
                ('', False), ('', False), ('', False)] for i in range(len(spread_names))]
section(1268, 1343, '月间价差', spread_rows)

blue_bar(1343, 1380, ['产业链数据', '项目', '数据', '环比', '项目', '数据', '环比'])
section(1380, 1418, '屠宰及白条市场',
        [[(slaughter_items[0], False), (slaughter_values[0], False), (slaughter_chg[0], True),
          (slaughter_items[1], False), (slaughter_values[1], False), (slaughter_chg[1], True)]])

blue_bar(1418, 1453)
put(60, 1435, '产业链图表', ha='left', color='white')

# chart panel grid
for y in (1913, 2372, 2830):
    hline(y, lw=2.2)
vline(832, 1453, 3313, lw=1.6)

blue_bar(3313, 3341)
put(43, 3327, '免责申明', ha='left', color='white')
for i, line in enumerate(disclaimer_lines):
    put(23, 3365 + i * 36.5, line, ha='left', fontsize=18.3)

bg.add_patch(Rectangle((L, T), R - L, B - T, fill=False, ec='black', lw=2.2))


# ---------------- charts ----------------
def chart(x0, y0, x1, y1, ylim, yticks):
    ax = fig.add_axes([x0 / W, 1 - y1 / H, (x1 - x0) / W, (y1 - y0) / H])
    ax.set_facecolor('none')
    ax.spines[['top', 'right']].set_visible(False)
    ax.spines[['left', 'bottom']].set_color(AXIS_GRAY)
    ax.spines[['left', 'bottom']].set_linewidth(1.6)
    ax.set_ylim(*ylim)
    ax.set_yticks(yticks, [str(v) for v in yticks])
    ax.tick_params(colors=AXIS_GRAY, labelcolor=TICK_BLUE, labelsize=14, length=6, width=1.2, pad=7)
    return ax


def x_dates(ax, labels, first, xlim, zero=False):
    ticks = [first + i for i in range(len(labels))]
    ax.set_xlim(*xlim)
    if zero:
        ax.spines['bottom'].set_position(('data', 0))
        ax.set_xticks(ticks)
        ax.tick_params(axis='x', labelbottom=False)
        sec = ax.secondary_xaxis('bottom')
        sec.set_ticks(ticks, labels)
        sec.tick_params(axis='x', length=0, labelsize=14, labelcolor=TICK_BLUE, pad=9)
        sec.spines['bottom'].set_visible(False)
        labs = sec.get_xticklabels()
    else:
        ax.set_xticks(ticks, labels)
        labs = ax.get_xticklabels()
    plt.setp(labs, rotation=45, ha='right', rotation_mode='anchor')


def draw(ax, series):
    for label, pairs, color, lw in series:
        ax.plot([p[0] for p in pairs], [p[1] for p in pairs], color=color, lw=lw, label=label)


def decorate(ax, title, tx, ty, lx, ly, spacing=1.4):
    fig.text(tx / W, 1 - ty / H, title, ha='center', va='center', fontsize=18)
    handles, labels = ax.get_legend_handles_labels()
    leg = ax.legend(handles, labels, loc='center', bbox_to_anchor=(lx / W, 1 - ly / H),
                    bbox_transform=fig.transFigure, ncol=len(handles), frameon=False, fontsize=15,
                    handlelength=2.0, handletextpad=0.2, columnspacing=spacing, borderpad=0, borderaxespad=0)
    for t in leg.get_texts():
        t.set_color(TICK_BLUE)


# Fig 1
ax = chart(94, 1539, 792, 1827, (5, 45), [5, 15, 25, 35, 45])
draw(ax, [('2018年', hog_2018, GRAY, 2.2), ('2019年', hog_2019, YELLOW, 2.2), ('2020年', hog_2020, MID_BLUE, 2.2),
          ('2021年', hog_2021, NAVY, 2.2), ('2022年', hog_2022, RED, 3.6)])
x_dates(ax, month_labels, 1, (1, 13))
decorate(ax, '图1：全国生猪平均市场价', 395, 1475, 431, 1520, 1.35)

# Fig 2
ax = chart(910, 1555, 1599, 1823, (0, 60), [0, 10, 20, 30, 40, 50, 60])
draw(ax, [('2018年', pork_2018, GRAY, 2.2), ('2019年', pork_2019, YELLOW, 2.2), ('2020年', pork_2020, MID_BLUE, 2.2),
          ('2021年', pork_2021, NAVY, 2.2), ('2022年', pork_2022, RED, 3.6)])
x_dates(ax, month_labels, 1, (1, 13))
decorate(ax, '图2：全国猪肉平均批发价', 1210, 1475, 1235, 1519, 1.35)

# Fig 3
ax = chart(118, 1987, 809, 2297, (0, 500000), [0, 100000, 200000, 300000, 400000, 500000])
draw(ax, [('2019年', slaughter_2019, '#CFCFCF', 2.2), ('2020年', slaughter_2020, MID_BLUE, 2.2),
          ('2021年', slaughter_2021, '#27477A', 2.4), ('2022年', slaughter_2022, RED, 3.4)])
x_dates(ax, month_labels, 1, (1, 13))
decorate(ax, '图3：样本屠企日度屠宰量', 395, 1933, 434, 1977, 1.35)

# Fig 4
ax = chart(933, 2012, 1593, 2288, (-10000, 15000), [-10000, -5000, 0, 5000, 10000, 15000])
draw(ax, [('LH2109基差', lh2109, MID_BLUE, 2.2), ('LH2209基差', lh2209, NAVY, 2.2), ('LH2309基差', lh2309, RED, 3.4)])
x_dates(ax, basis09_dates, 0, (-0.03, 11.63), zero=True)
decorate(ax, '图4：生猪09合约基差（基准地）', 1206, 1933, 1239, 1989, 1.6)

# Fig 5
ax = chart(124, 2461, 776, 2740, (-10000, 10000), [-10000, -5000, 0, 5000, 10000])
draw(ax, [('LH2201基差', lh2201, NAVY, 2.2), ('LH2301基差', lh2301, RED, 3.4)])
x_dates(ax, basis01_dates, 0, (-0.02, 11.36), zero=True)
decorate(ax, '图5：生猪01合约基差（基准地）', 391, 2392, 424, 2437, 1.6)

# Fig 6
ax = chart(920, 2463, 1602, 2747, (-10000, 15000), [-10000, -5000, 0, 5000, 10000, 15000])
draw(ax, [('LH2205基差', lh2205, NAVY, 2.2), ('LH2305基差', lh2305, RED, 3.4)])
x_dates(ax, basis05_dates, 0, (-0.03, 11.67), zero=True)
decorate(ax, '图6：生猪05合约基差（基准地）', 1206, 2392, 1235, 2440, 1.6)

# Fig 7
ax = chart(112, 2917, 789, 3232, (-2000, 6000), [-2000, 0, 2000, 4000, 6000])
draw(ax, [('LH2201-2205', lh2201_2205, NAVY, 2.0), ('LH2301-2305', lh2301_2305, RED, 3.3)])
x_dates(ax, spread15_dates, 0, (-0.04, 7.62), zero=True)
decorate(ax, '图7：生猪1-5价差', 396, 2849, 432, 2896, 1.0)

# Fig 8
ax = chart(915, 2945, 1600, 3218, (-7000, 3000), [-7000, -5000, -3000, -1000, 1000, 3000])
draw(ax, [('LH2205-2209', lh2205_2209, NAVY, 2.0), ('LH2305-2309', lh2305_2309, RED, 3.3)])
x_dates(ax, spread59_dates, 0, (0, 7.57), zero=True)
decorate(ax, '图8：生猪5-9价差', 1214, 2849, 1238, 2900, 1.0)

fig.savefig('out.png', dpi=100)
